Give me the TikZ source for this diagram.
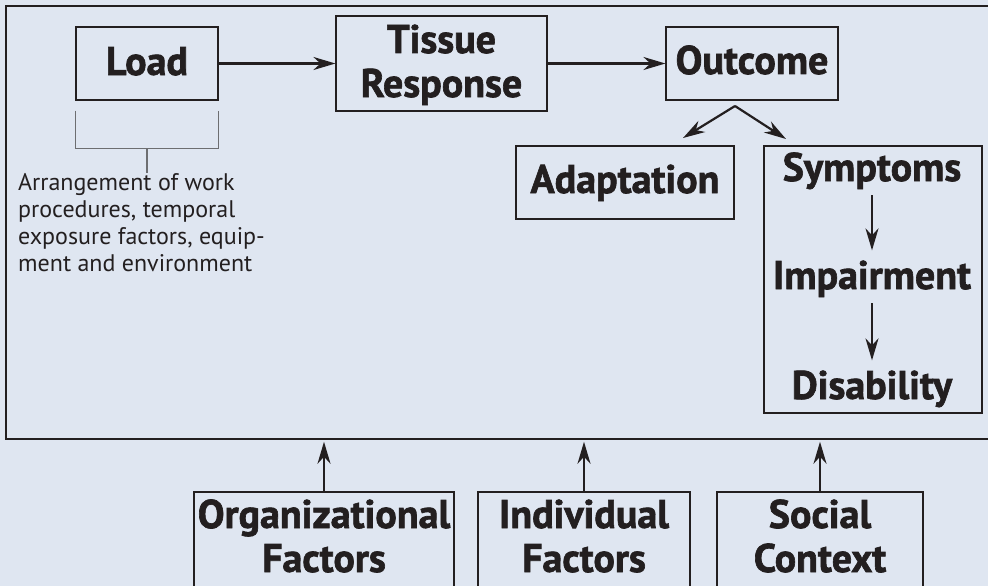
\documentclass[tikz,border=0pt]{standalone}
\usepackage{fontspec}
\setmainfont{PT Sans}
\newfontfamily\heavyfont{PT Sans}[BoldFeatures={FakeBold=1.6}]
\usetikzlibrary{arrows.meta}
\definecolor{panel}{HTML}{DFE6F1}
\definecolor{ink}{HTML}{231F20}
\definecolor{bracketgray}{HTML}{6D6E71}
\begin{document}
\begin{tikzpicture}[x=1pt,y=-1pt,
  box/.style={draw=ink, line width=1.1pt, inner sep=0pt, rectangle},
  heavy/.style={text=ink, font=\heavyfont\bfseries\fontsize{40}{44}\selectfont, align=center, inner sep=0pt, anchor=base},
  note/.style={text=ink, font=\fontsize{24}{27}\selectfont, align=left, inner sep=0pt},
  arr/.style={draw=ink, line width=2.4pt, -{Stealth[length=22pt,width=13pt,inset=7pt]}}]
\fill[panel] (0,0) rectangle (988,586);
\clip (0,0) rectangle (988,586);

% outer panel
\node[box, line width=1.5pt, minimum width=989pt, minimum height=433pt] (frame) at (500.5,222.5) {};

% main chain
\node[box, minimum width=142pt, minimum height=73pt] (load) at (147,63.5) {};
\node[heavy] (loadtxt) at (147,75) {Load};
\node[box, minimum width=211pt, minimum height=95pt] (tissue) at (441.5,63.5) {};
\node[heavy] (tissuetxt) at (441.5,97) {Tissue\\Response};
\node[box, minimum width=172pt, minimum height=73pt] (outcome) at (752,63.5) {};
\node[heavy] (outcometxt) at (752,74) {Outcome};

\draw[arr] (load.east) -- (tissue.west);
\draw[arr] (tissue.east) -- (outcome.west);

% outcomes
\node[box, minimum width=218pt, minimum height=73pt] (adapt) at (625,182.5) {};
\node[heavy] (adapttxt) at (625,193) {Adaptation};
\node[box, minimum width=218pt, minimum height=267pt] (symbox) at (873,279.5) {};
\node[heavy] (sym) at (872,181) {Symptoms};
\node[heavy] (imp) at (872,289) {Impairment};
\node[heavy] (dis) at (872,399) {Disability};

\coordinate (fork) at (735,106);
\coordinate (toadapt) at (683,138);
\coordinate (tosym) at (786,139);
\draw[arr, line width=2.2pt] (fork) -- (toadapt);
\draw[arr, line width=2.2pt] (fork) -- (tosym);

\draw[arr] ([yshift=-6pt]sym.south) -- ([yshift=10pt]imp.north);
\draw[arr] ([yshift=-6pt]imp.south) -- ([yshift=10pt]dis.north);

% load factors
\node[note, anchor=north west] (note) at (18,173) {Arrangement of work\\procedures, temporal\\exposure factors, equip-\\ment and environment};
\coordinate (brk) at ([yshift=-48pt]load.south);
\draw[bracketgray, line width=1.2pt]
  ([yshift=-10pt]load.south west) -- (load.south west |- brk) -- (load.south east |- brk) -- ([yshift=-10pt]load.south east);
\draw[bracketgray, line width=1.2pt] (brk) -- (brk |- note.north);

% contributing factors
\node[box, minimum width=260pt, minimum height=128pt] (orgbox) at (324,556) {};
\node[heavy] (orgtxt) at (324,572) {Organizational\\Factors};
\node[box, minimum width=212pt, minimum height=128pt] (indbox) at (584,556) {};
\node[heavy] (indtxt) at (584,572) {Individual\\Factors};
\node[box, minimum width=206pt, minimum height=128pt] (socbox) at (820,556) {};
\node[heavy] (soctxt) at (820,572) {Social\\Context};

\draw[arr, shorten >=2pt] (orgbox.north) -- (orgbox.north |- frame.south);
\draw[arr, shorten >=2pt] (indbox.north) -- (indbox.north |- frame.south);
\draw[arr, shorten >=2pt] (socbox.north) -- (socbox.north |- frame.south);
\end{tikzpicture}
\end{document}
